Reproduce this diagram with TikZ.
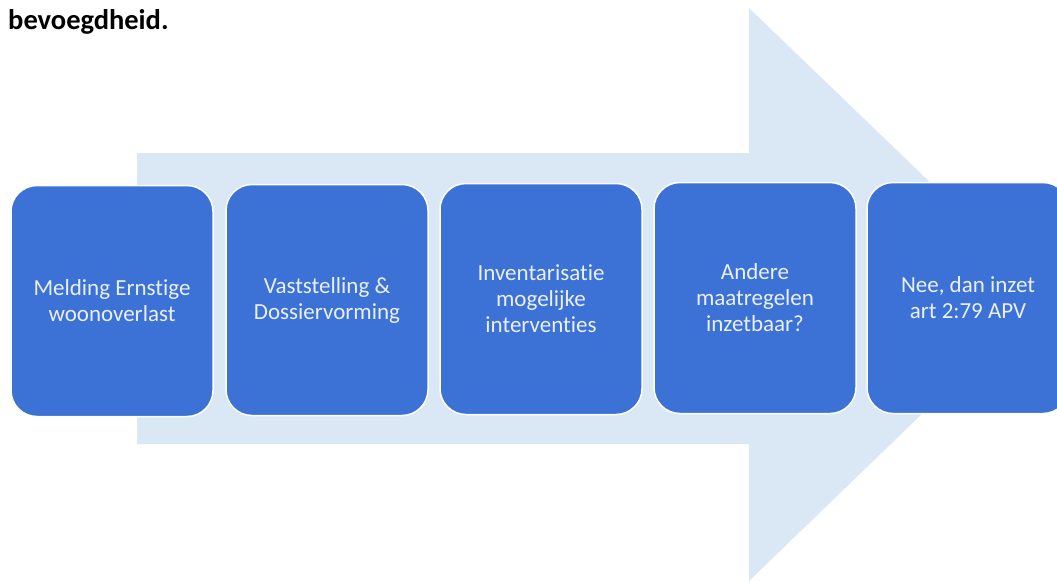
\documentclass[tikz,border=0pt]{standalone}
\usepackage{fontspec}
\setmainfont[Ligatures={NoCommon,NoRare,NoDiscretionary}]{Carlito}
\definecolor{arrowfill}{HTML}{DAE7F4}
\definecolor{boxfill}{HTML}{3C71D5}
\definecolor{boxtext}{HTML}{EAF0FA}
\begin{document}
\begin{tikzpicture}[x=1pt,y=-1pt,
  stepbox/.style={draw=white,line width=1.5pt,fill=boxfill,rounded corners=26pt,
    minimum width=202pt,minimum height=231pt,text=boxtext,align=center,
    font=\fontsize{23}{26}\selectfont,inner sep=0pt},
  title/.style={anchor=base west,font=\fontsize{28.5}{32}\selectfont\bfseries,text=black,inner sep=0pt}]
\useasboundingbox (0,0) rectangle (1057,582);
\fill[white] (0,0) rectangle (1057,582);
% big arrow
\fill[arrowfill] (137,153) -- (749,153) -- (749,8) -- (1046,294) -- (749,581) -- (749,444) -- (137,444) -- cycle;
% boxes
\node[stepbox] (b1) at (112,301) {Melding Ernstige\\woonoverlast};
\node[stepbox] (b2) at (327,300) {Vaststelling \&\\Dossiervorming};
\node[stepbox] (b3) at (541,299) {Inventarisatie\\mogelijke\\interventies};
\node[stepbox] (b4) at (755,298) {Andere\\maatregelen\\inzetbaar?};
\node[stepbox] (b5) at (968,298) {Nee, dan inzet\\art 2:79 APV};
\node[title] (t) at (8,29) {bevoegdheid.};
\end{tikzpicture}
\end{document}
